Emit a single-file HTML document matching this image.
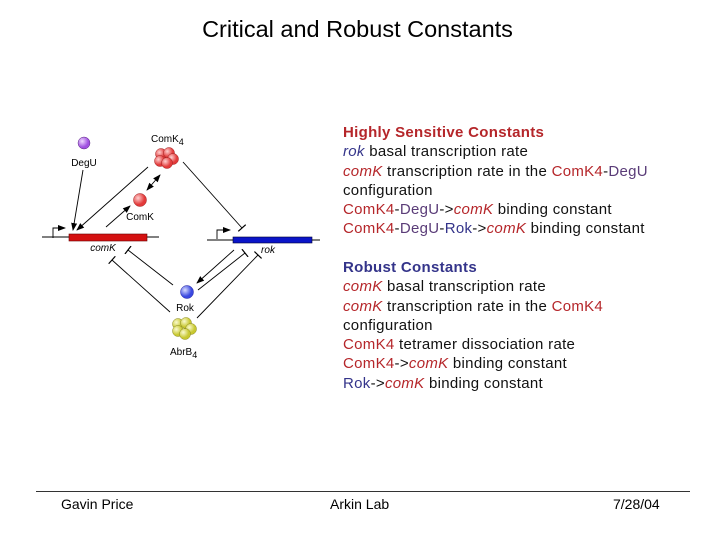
<!DOCTYPE html>
<html><head><style>
body{margin:0;width:720px;height:540px;background:#fff;overflow:hidden;position:relative;font-family:"Liberation Sans",sans-serif}
.t{position:absolute;white-space:nowrap}
.r{color:#b5262a}.b{color:#34348a}.p{color:#5a3c78}.i{font-style:italic}
.txt{position:absolute;left:343px;font-size:15px;line-height:19.3px;color:#111;white-space:nowrap}
</style></head><body>
<div class="t" style="left:0;width:715px;text-align:center;top:16px;font-size:23.5px">Critical and Robust Constants</div>
<div class="txt" style="top:123px;letter-spacing:0.3px"><b class="r">Highly Sensitive Constants</b><br><span class="b i">rok</span> basal transcription rate<br><span class="r i">comK</span> transcription rate in the <span class="r">ComK4</span>-<span class="p">DegU</span><br>configuration<br><span class="r">ComK4</span>-<span class="p">DegU</span>-&gt;<span class="r i">comK</span> binding constant<br><span class="r">ComK4</span>-<span class="p">DegU</span>-<span class="b">Rok</span>-&gt;<span class="r i">comK</span> binding constant</div>
<div class="txt" style="top:258px;letter-spacing:0.3px"><b class="b">Robust Constants</b><br><span class="r i">comK</span> basal transcription rate<br><span class="r i">comK</span> transcription rate in the <span class="r">ComK4</span><br>configuration<br><span class="r">ComK4</span> tetramer dissociation rate<br><span class="r">ComK4</span>-&gt;<span class="r i">comK</span> binding constant<br><span class="b">Rok</span>-&gt;<span class="r i">comK</span> binding constant</div>
<div style="position:absolute;left:36px;top:491px;width:654px;height:1px;background:#333"></div>
<div class="t" style="left:61px;top:496px;font-size:14px">Gavin Price</div>
<div class="t" style="left:330px;top:496px;font-size:14px">Arkin Lab</div>
<div class="t" style="left:613px;top:496px;font-size:14px">7/28/04</div>
<svg width="720" height="540" style="position:absolute;left:0;top:0" font-family="Liberation Sans,sans-serif" font-size="10">
<defs><marker id="a" markerWidth="8" markerHeight="8" refX="7" refY="4" orient="auto" markerUnits="userSpaceOnUse"><path d="M0,1L8,4L0,7z" fill="#000"/></marker>
<marker id="as" markerWidth="8" markerHeight="8" refX="1" refY="4" orient="auto" markerUnits="userSpaceOnUse"><path d="M8,1L0,4L8,7z" fill="#000"/></marker>
<marker id="tb" markerWidth="2" markerHeight="10" refX="1" refY="5" orient="auto" markerUnits="userSpaceOnUse"><path d="M1,0V10" stroke="#000" stroke-width="1.2"/></marker>
<radialGradient id="gr" cx="35%" cy="35%"><stop offset="0" stop-color="#ffd0d0"/><stop offset="1" stop-color="#e23a3a"/></radialGradient>
<radialGradient id="gb" cx="35%" cy="35%"><stop offset="0" stop-color="#d8dcff"/><stop offset="1" stop-color="#3a48e0"/></radialGradient>
<radialGradient id="gp" cx="35%" cy="35%"><stop offset="0" stop-color="#f0d8ff"/><stop offset="1" stop-color="#a050e0"/></radialGradient>
<radialGradient id="gy" cx="35%" cy="35%"><stop offset="0" stop-color="#fafad0"/><stop offset="1" stop-color="#c8c830"/></radialGradient></defs>
<g stroke="#000" stroke-width="0.9" fill="none">
<line x1="42" y1="237" x2="159" y2="237"/><line x1="207" y1="240" x2="320" y2="240"/>
<path d="M53,238V228H65" marker-end="url(#a)"/><path d="M217,239V230H230" marker-end="url(#a)"/>
<line x1="83" y1="170" x2="73" y2="230" marker-end="url(#a)"/>
<line x1="148" y1="167" x2="77" y2="230" marker-end="url(#a)"/>
<line x1="106" y1="227" x2="130" y2="206" marker-end="url(#a)"/>
<line x1="147" y1="190" x2="160" y2="175" marker-end="url(#a)" marker-start="url(#as)"/>
<line x1="183" y1="162" x2="242" y2="228" marker-end="url(#tb)"/>
<line x1="173" y1="285" x2="128" y2="250" marker-end="url(#tb)"/>
<line x1="170" y1="312" x2="112" y2="260" marker-end="url(#tb)"/>
<line x1="234" y1="250" x2="197" y2="283" marker-end="url(#a)"/>
<line x1="198" y1="290" x2="245" y2="253" marker-end="url(#tb)"/>
<line x1="197" y1="318" x2="258" y2="255" marker-end="url(#tb)"/>
</g>
<rect x="69" y="234" width="78" height="7" fill="#d41010" stroke="#600" stroke-width="0.6"/>
<rect x="233" y="237" width="79" height="6" fill="#0a14c8" stroke="#003" stroke-width="0.6"/>
<circle cx="84" cy="143" r="6" fill="url(#gp)" stroke="#5a2a80" stroke-width="0.5"/>
<circle cx="140" cy="200" r="6.5" fill="url(#gr)" stroke="#a02020" stroke-width="0.5"/>
<circle cx="187" cy="292" r="6.5" fill="url(#gb)" stroke="#2020a0" stroke-width="0.5"/>
<g stroke="#a02020" stroke-width="0.5" fill="url(#gr)">
<circle cx="161" cy="154" r="5.5"/><circle cx="169" cy="153" r="5.5"/><circle cx="173" cy="159" r="5.5"/><circle cx="160" cy="161" r="5.5"/><circle cx="167" cy="163" r="5.5"/></g>
<g stroke="#8a8a20" stroke-width="0.5" fill="url(#gy)">
<circle cx="178" cy="324" r="5.5"/><circle cx="186" cy="323" r="5.5"/><circle cx="191" cy="329" r="5.5"/><circle cx="178" cy="331" r="5.5"/><circle cx="185" cy="334" r="5.5"/></g>
<text x="84" y="166" text-anchor="middle">DegU</text>
<text x="151" y="142">ComK<tspan font-size="9" dy="3">4</tspan></text>
<text x="140" y="220" text-anchor="middle">ComK</text>
<text x="185" y="311" text-anchor="middle">Rok</text>
<text x="170" y="355">AbrB<tspan font-size="9" dy="3">4</tspan></text>
<text x="103" y="251" text-anchor="middle" font-style="italic">comK</text>
<text x="268" y="253" text-anchor="middle" font-style="italic">rok</text>
</svg>
</body></html>
